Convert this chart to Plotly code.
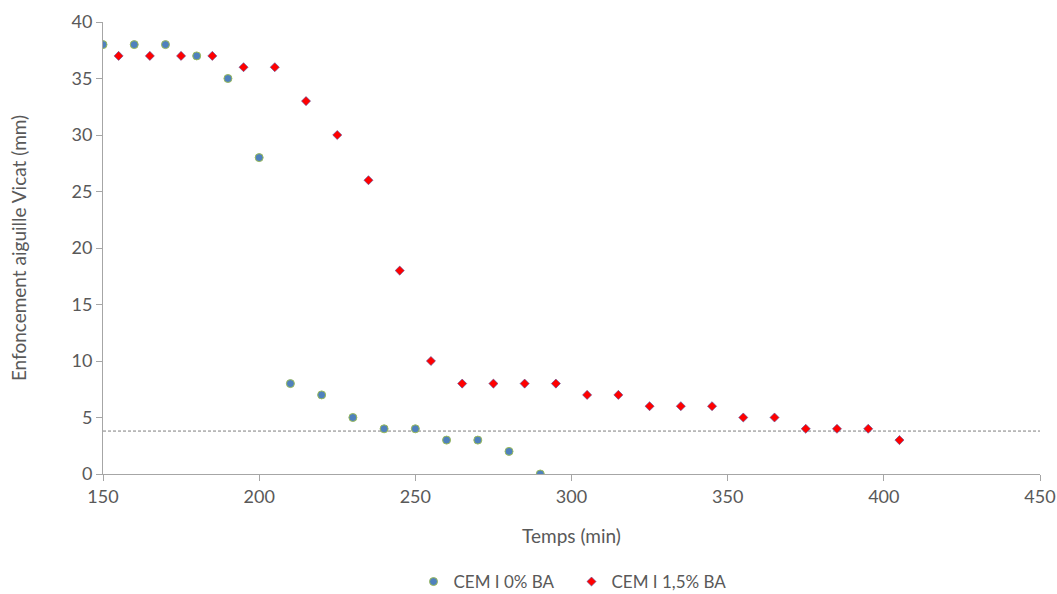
import plotly.graph_objects as go

x_blue = [150, 160, 170, 180, 190, 200, 210, 220, 230, 240, 250, 260, 270, 280, 290]
y_blue = [38, 38, 38, 37, 35, 28, 8, 7, 5, 4, 4, 3, 3, 2, 0]
x_red = [155, 165, 175, 185, 195, 205, 215, 225, 235, 245, 255, 265, 275, 285, 295,
         305, 315, 325, 335, 345, 355, 365, 375, 385, 395, 405]
y_red = [37, 37, 37, 37, 36, 36, 33, 30, 26, 18, 10, 8, 8, 8, 8,
         7, 7, 6, 6, 6, 5, 5, 4, 4, 4, 3]
threshold_x = [150, 450]
threshold_y = [3.8, 3.8]

FONT = "Lato"
GREY = "#595959"

fig = go.Figure()
fig.add_trace(go.Scatter(x=threshold_x, y=threshold_y, mode="lines",
                         line=dict(color="#7f7f7f", width=1, dash="3px,2px"),
                         showlegend=False, hoverinfo="skip"))
fig.add_trace(go.Scatter(x=x_blue, y=y_blue, mode="markers", name="CEM I 0% BA",
                         marker=dict(symbol="circle", size=8, color="#4f81bd",
                                     line=dict(color="#9bbb59", width=1))))
fig.add_trace(go.Scatter(x=x_red, y=y_red, mode="markers", name="CEM I 1,5% BA",
                         marker=dict(symbol="diamond", size=7, color="#ff0000",
                                     line=dict(color="#5050a0", width=0.6))))

fig.update_layout(
    width=1057, height=594,
    margin=dict(l=103, r=17, t=22, b=120, autoexpand=False),
    plot_bgcolor="white", paper_bgcolor="white",
    font=dict(family=FONT, color=GREY, size=17),
    legend=dict(orientation="h", x=0.5, xanchor="center", xref="paper",
                y=(594 - 582) / 594, yanchor="middle", yref="container",
                font=dict(size=17, color=GREY), entrywidth=113),
    xaxis=dict(range=[150, 450], dtick=50, showgrid=False, zeroline=False,
               showline=True, linecolor="#a6a6a6", linewidth=1, automargin=False,
               ticks="outside", ticklen=6, tickcolor="#a6a6a6",
               title=dict(text="Temps (min)", font=dict(size=19, color=GREY), standoff=24),
               tickfont=dict(size=18, color=GREY)),
    yaxis=dict(range=[0, 40], dtick=5, showgrid=False, zeroline=False,
               showline=True, linecolor="#a6a6a6", linewidth=1, automargin=False,
               ticks="outside", ticklen=6, tickcolor="#a6a6a6",
               title=dict(text="Enfoncement aiguille Vicat (mm)", font=dict(size=19, color=GREY), standoff=39),
               tickfont=dict(size=18, color=GREY)),
)
fig.write_html("out.html", config={"displayModeBar": False},
               post_script="document.body.style.margin='0';document.body.style.overflow='hidden';")
